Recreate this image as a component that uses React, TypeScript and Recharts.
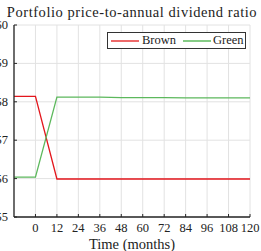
import React from "react";
import { LineChart, Line, XAxis, YAxis, CartesianGrid, Label } from "recharts";

const months = [-12, 0, 12, 24, 36, 48, 60, 72, 84, 96, 108, 120];
const brown = [58.14, 58.14, 55.99, 55.99, 55.99, 55.99, 55.99, 55.99, 55.99, 55.99, 55.99, 55.99];
const green = [56.04, 56.04, 58.12, 58.12, 58.12, 58.11, 58.11, 58.11, 58.1, 58.1, 58.1, 58.1];
const xTicks = [0, 12, 24, 36, 48, 60, 72, 84, 96, 108, 120];
const yTicks = [55, 56, 57, 58, 59, 60];
const seriesNames = ["Brown", "Green"];

const data = months.map((m, i) => ({ month: m, brown: brown[i], green: green[i] }));

const FONT = "'Liberation Serif', 'DejaVu Serif', serif";
const AXIS = "#262626";
const RED = "#e3161c";
const GREEN = "#5cb85c";

const BottomTick = (props: any) => {
  const { x, y, payload } = props;
  return (
    <g>
      <line x1={x} y1={y} x2={x} y2={y - 3} stroke={AXIS} strokeWidth={1} />
      <text x={x} y={y + 15} textAnchor="middle" fontFamily={FONT} fontSize={12.5} fill="#222">
        {payload.value}
      </text>
    </g>
  );
};

const TopTick = (props: any) => {
  const { x, y } = props;
  return <line x1={x} y1={y} x2={x} y2={y + 3} stroke={AXIS} strokeWidth={1} />;
};

const LeftTick = (props: any) => {
  const { x, y, payload } = props;
  return (
    <g>
      <line x1={x} y1={y} x2={x + 3} y2={y} stroke={AXIS} strokeWidth={1} />
      <text x={x - 6} y={y + 4} textAnchor="end" fontFamily={FONT} fontSize={12.5} fill="#222">
        {payload.value}
      </text>
    </g>
  );
};

const RightTick = (props: any) => {
  const { x, y } = props;
  return <line x1={x} y1={y} x2={x - 3} y2={y} stroke={AXIS} strokeWidth={1} />;
};

export default function App() {
  return (
    <div style={{ position: "absolute", left: 0, top: 0, width: 261, height: 251, background: "#fff", overflow: "visible" }}>
      <div
        style={{
          position: "absolute",
          left: 0,
          top: 2,
          width: 264,
          textAlign: "center",
          fontFamily: FONT,
          fontSize: 14.5,
          letterSpacing: 0.55,
          lineHeight: "20px",
          color: "#222",
          whiteSpace: "nowrap",
        }}
      >
        Portfolio price-to-annual dividend ratio
      </div>
      <LineChart width={261} height={251} data={data} margin={{ top: 25, right: 11, bottom: 0, left: 0 }} style={{ overflow: "visible" }}>
        <CartesianGrid xAxisId="b" yAxisId="l" stroke="#e2e2e2" strokeWidth={1} />
        <XAxis
          xAxisId="b"
          dataKey="month"
          type="number"
          domain={[-12, 120]}
          ticks={xTicks}
          tickSize={0}
          tickMargin={0}
          height={34}
          axisLine={{ stroke: AXIS, strokeWidth: 1.3 }}
          tickLine={false}
          tick={<BottomTick />}
          interval={0}
        >
          <Label value="Time (months)" position="insideBottom" offset={2} style={{ fontFamily: FONT, fontSize: 14.5, fill: "#222" }} />
        </XAxis>
        <XAxis
          xAxisId="t"
          orientation="top"
          dataKey="month"
          type="number"
          domain={[-12, 120]}
          ticks={xTicks}
          tickSize={0}
          tickMargin={0}
          height={0}
          axisLine={{ stroke: AXIS, strokeWidth: 1.3 }}
          tickLine={false}
          tick={<TopTick />}
          interval={0}
        />
        <YAxis
          yAxisId="l"
          type="number"
          domain={[55, 60]}
          ticks={yTicks}
          tickSize={0}
          tickMargin={0}
          width={14}
          axisLine={{ stroke: AXIS, strokeWidth: 1.3 }}
          tickLine={false}
          tick={<LeftTick />}
          interval={0}
        />
        <YAxis
          yAxisId="r"
          orientation="right"
          type="number"
          domain={[55, 60]}
          ticks={yTicks}
          tickSize={0}
          tickMargin={0}
          width={0}
          axisLine={{ stroke: AXIS, strokeWidth: 1.3 }}
          tickLine={false}
          tick={<RightTick />}
          interval={0}
        />
        <Line xAxisId="b" yAxisId="l" type="linear" dataKey="brown" name="Brown" stroke={RED} strokeWidth={1.3} dot={false} isAnimationActive={false} />
        <Line xAxisId="b" yAxisId="l" type="linear" dataKey="green" name="Green" stroke={GREEN} strokeWidth={1.3} dot={false} isAnimationActive={false} />
      </LineChart>
      <div
        style={{
          position: "absolute",
          left: 107,
          top: 32,
          width: 139,
          height: 17,
          border: "1px solid #333",
          background: "#fff",
          display: "flex",
          alignItems: "center",
          boxSizing: "border-box",
          fontFamily: FONT,
          fontSize: 12.5,
          color: "#222",
          paddingLeft: 3,
        }}
      >
        <span style={{ display: "inline-block", width: 28, height: 2, background: "#ee6a6a", marginRight: 3 }} />
        <span style={{ marginRight: 7 }}>{seriesNames[0]}</span>
        <span style={{ display: "inline-block", width: 28, height: 2, background: "#86cc86", marginRight: 2 }} />
        <span>{seriesNames[1]}</span>
      </div>
    </div>
  );
}
